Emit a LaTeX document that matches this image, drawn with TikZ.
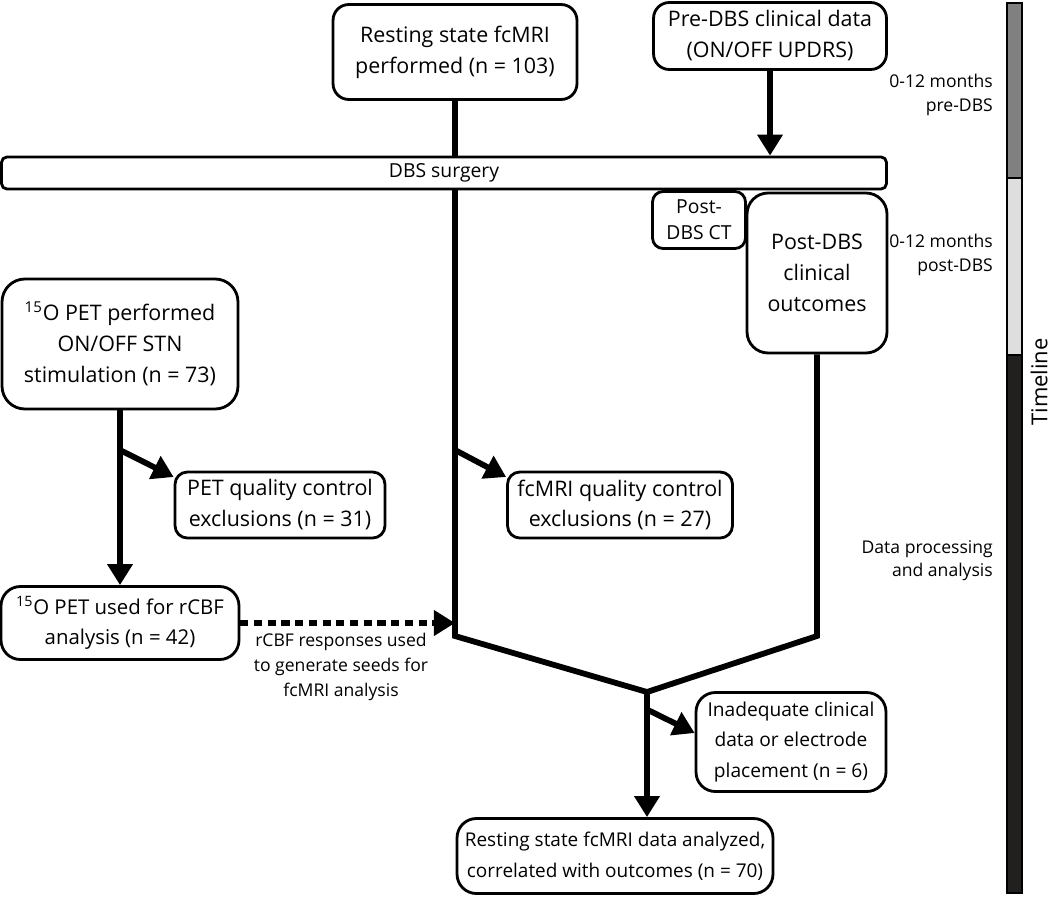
\documentclass[tikz,border=0pt]{standalone}
\usepackage{fontspec}
\setmainfont{Open Sans}
\usetikzlibrary{arrows.meta,positioning,backgrounds}

\begin{document}
\begin{tikzpicture}[x=0.02cm, y=-0.02cm,
  box/.style={draw, fill=white, line width=1.6pt, rounded corners=#1, align=center,
    inner sep=0pt, font=\fontsize{12.2}{17.6}\selectfont},
  box/.default=9pt,
  conn/.style={line width=3.3pt},
  arr/.style={conn, -{Triangle[length=12pt, width=14pt]}},
  dotarr/.style={arr, dash pattern=on 4.6pt off 3.2pt},
  side/.style={align=right, font=\fontsize{10}{13.2}\selectfont},
  segment/.style={draw, line width=1.3pt}]
\useasboundingbox (0,0) rectangle (1050,899);

% boxes
\node (rest)[box, minimum width=4.88cm, minimum height=1.9cm] at (455,52) {Resting state fcMRI\\performed (n = 103)};
\node (pre)[box, minimum width=4.66cm, minimum height=1.34cm] at (770,36) {Pre-DBS clinical data\\(ON/OFF UPDRS)};
\node (bar)[box=3pt, minimum width=17.7cm, minimum height=0.64cm, font=\fontsize{11}{14}\selectfont] at (444,173) {DBS surgery};
\node (ct)[box=6pt, minimum width=1.86cm, minimum height=1.14cm, font=\fontsize{11}{15}\selectfont] at (699,220) {Post-\\DBS CT};
\node (outc)[box=12pt, minimum width=2.8cm, minimum height=3.2cm] at (817,273) {Post-DBS\\clinical\\outcomes};
\node (pet)[box=13pt, minimum width=4.72cm, minimum height=2.6cm] at (120,344) {\textsuperscript{15}O PET performed\\ON/OFF STN\\stimulation (n = 73)};
\node (petqc)[box=7pt, minimum width=4.2cm, minimum height=1.32cm] at (280,505) {PET quality control\\exclusions (n = 31)};
\node (fcqc)[box=7pt, minimum width=4.5cm, minimum height=1.32cm] at (620,505) {fcMRI quality control\\exclusions (n = 27)};
\node (petuse)[box=11pt, minimum width=4.76cm, minimum height=1.46cm, font=\fontsize{11.6}{17.6}\selectfont] at (120,623) {\textsuperscript{15}O PET used for rCBF\\analysis (n = 42)};
\node (inad)[box=11pt, minimum width=3.8cm, minimum height=1.98cm, font=\fontsize{10.9}{17.6}\selectfont] at (791,742) {Inadequate clinical\\data or electrode\\placement (n = 6)};
\node (final)[box=11pt, minimum width=6.32cm, minimum height=1.5cm, font=\fontsize{10.8}{17.6}\selectfont] at (615,856) {Resting state fcMRI data analyzed,\\correlated with outcomes (n = 70)};
\node (seeds)[side, align=center, font=\fontsize{10}{14}\selectfont] at (341,667) {rCBF responses used\\to generate seeds for\\fcMRI analysis};

% junctions
\coordinate (j1) at (455,636);
\coordinate (jm) at (647,692);
\coordinate (b1) at (120,450);
\coordinate (b2) at (455,450);
\coordinate (b3) at (648,710);

% connectors
\begin{scope}[on background layer]
\draw[conn] (rest.south) -- (j1) -- (jm);
\draw[conn] (outc.south) -- (outc.south |- j1) -- (jm);
\draw[arr] (jm) -- (final.north -| jm);
\draw[arr] (pre.south) -- (bar.north -| pre.south);
\draw[arr] (pet.south) -- (petuse.north);
\draw[arr] (b1) -- ([yshift=0.56cm]petqc.west);
\draw[arr] (b2) -- ([yshift=0.56cm]fcqc.west);
\draw[arr] (b3) -- ([yshift=0.18cm]inad.west);
\draw[dotarr] (petuse.east) -- (petuse.east -| j1);
\end{scope}

% timeline
\draw[segment, fill={rgb,255:red,128;green,128;blue,128}] (1007,3) rectangle (1022,178);
\draw[segment, fill={rgb,255:red,222;green,222;blue,222}] (1007,178) rectangle (1022,355);
\draw[segment, fill={rgb,255:red,34;green,32;blue,30}] (1007,355) rectangle (1022,893);
\node (tl)[rotate=90, font=\fontsize{12.5}{15}\selectfont] at (1039,382) {Timeline};
\node (tpre)[side, anchor=east] at (999,95) {0-12 months\\pre-DBS};
\node (tpost)[side, anchor=east] at (999,255) {0-12 months\\post-DBS};
\node (tdata)[side, anchor=east] at (999,561) {Data processing\\and analysis};
\end{tikzpicture}
\end{document}
